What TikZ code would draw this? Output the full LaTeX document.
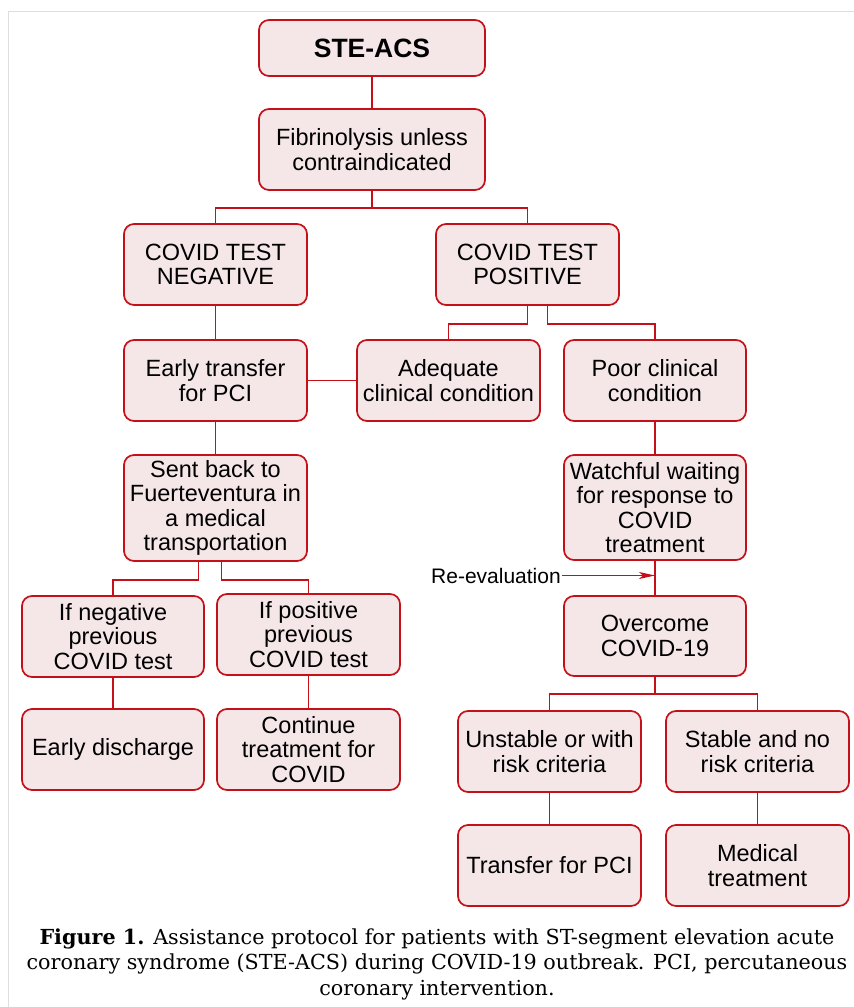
\documentclass[tikz,border=0pt]{standalone}
\usepackage{fontspec}
\setmainfont{Liberation Sans}
\newfontfamily\capfont{DejaVu Serif}
\usetikzlibrary{arrows.meta}
\definecolor{boxred}{RGB}{196,16,24}
\definecolor{boxfill}{RGB}{245,230,232}
\definecolor{framegray}{RGB}{222,222,222}
\begin{document}
\begin{tikzpicture}[x=1pt,y=1pt,
  flowbox/.style={draw=boxred, fill=boxfill, line width=1.7pt, rounded corners=10pt,
    align=center, inner sep=1pt, font=\fontsize{23.5}{24.5}\selectfont,
    minimum width=183pt, minimum height=81pt},
  link/.style={draw=boxred, line width=1.8pt}]
\useasboundingbox (0,0) rectangle (854,-1007);
\fill[white] (0,0) rectangle (854,-1007);
\draw[framegray, line width=1.5pt] (8.5,-1007) -- (8.5,-11.5) -- (854,-11.5);

\node[flowbox, minimum width=226pt, minimum height=56pt, font=\fontsize{26.5}{28}\selectfont\bfseries] (ste) at (372,-48) {STE-ACS};
\node[flowbox, minimum width=226pt] (fib) at (372,-149.5) {Fibrinolysis unless\\contraindicated};
\node[flowbox] (neg) at (215.5,-264.5) {COVID TEST\\NEGATIVE};
\node[flowbox] (pos) at (527.5,-264.5) {COVID TEST\\POSITIVE};
\node[flowbox] (early) at (215.5,-380.5) {Early transfer\\for PCI};
\node[flowbox] (adeq) at (448.5,-380.5) {Adequate\\clinical condition};
\node[flowbox, minimum width=182pt] (poor) at (655,-380.5) {Poor clinical\\condition};
\node[flowbox, minimum height=106pt] (sent) at (215.5,-508) {Sent back to\\Fuerteventura in\\a medical\\transportation};
\node[flowbox, minimum width=182pt, minimum height=105pt] (watch) at (655,-507.5) {Watchful waiting\\for response to\\COVID\\treatment};
\node[flowbox, minimum width=182pt] (ifneg) at (113,-636.5) {If negative\\previous\\COVID test};
\node[flowbox] (ifpos) at (308.5,-634.5) {If positive\\previous\\COVID test};
\node[flowbox, minimum width=182pt, minimum height=80pt] (over) at (655,-636) {Overcome\\COVID-19};
\node[flowbox, minimum width=182pt] (disch) at (113,-749.5) {Early discharge};
\node[flowbox] (cont) at (308.5,-749.5) {Continue\\treatment for\\COVID};
\node[flowbox] (unst) at (549.5,-751.5) {Unstable or with\\risk criteria};
\node[flowbox] (stab) at (757.5,-751.5) {Stable and no\\risk criteria};
\node[flowbox] (trans) at (549.5,-865.5) {Transfer for PCI};
\node[flowbox] (med) at (757.5,-865.5) {Medical\\treatment};

\node[font=\fontsize{21}{23}\selectfont, inner sep=1pt] (reeval) at (496,-575.5) {Re-evaluation};

\coordinate (j1) at (372,-208);
\coordinate (j3) at (655,-694);

\draw[link] (ste) -- (fib);
\draw[link] (fib) -- (j1);
\draw[link] (neg.north) |- (j1) -| (pos.north);
\draw[link] (neg) -- (early);
\draw[link] (pos.south) -- ++(0,-18) -| (adeq.north);
\draw[link] ([xshift=20pt]pos.south) -- ++(0,-18) -| (poor.north);
\draw[link] (early) -- (adeq);
\draw[link] (early) -- (sent);
\draw[link] ([xshift=-17pt]sent.south) -- ++(0,-18) -| (ifneg.north);
\draw[link] ([xshift=6pt]sent.south) -- ++(0,-18) -| (ifpos.north);
\draw[link] (ifneg) -- (disch);
\draw[link] (ifpos) -- (cont);
\draw[link] (poor) -- (watch);
\draw[link] (watch) -- (over);
\draw[link, line width=1.5pt, -{Stealth[length=16pt,width=7pt,inset=4pt]}] (reeval.east) -- (watch.south |- reeval.east);
\draw[link] (over) -- (j3);
\draw[link] (unst.north) |- (j3) -| (stab.north);
\draw[link] (unst) -- (trans);
\draw[link] (stab) -- (med);

\node[align=center, font=\capfont\fontsize{20.7}{25.5}\selectfont, inner sep=0pt] (caption) at (437,-964)
 {\textbf{Figure 1.} Assistance protocol for patients with ST-segment elevation acute\\
  coronary syndrome (STE-ACS) during COVID-19 outbreak. PCI, percutaneous\\
  coronary intervention.};
\end{tikzpicture}
\end{document}
